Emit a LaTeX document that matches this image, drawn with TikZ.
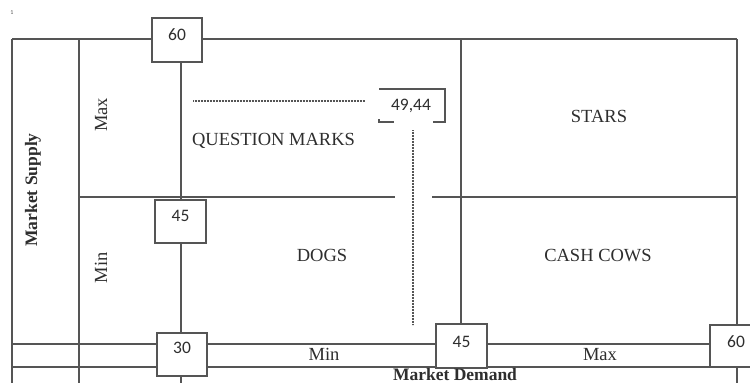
\documentclass[tikz,border=0pt]{standalone}
\usepackage{fontspec}
\setmainfont{Liberation Serif}
\newfontfamily\numfont{Carlito}
\definecolor{lc}{HTML}{555555}
\definecolor{tc}{HTML}{2E2E2E}
\begin{document}
\begin{tikzpicture}[x=1pt,y=-1pt,
  ln/.style={draw=lc, line width=1.1pt},
  dots/.style={draw=lc, line width=1.4pt, dash pattern=on 0.6pt off 0.9pt},
  numbox/.style={draw=lc, line width=1.1pt, fill=white, inner sep=0pt},
  num/.style={font=\numfont\fontsize{17.5}{20}\selectfont, text=tc, inner sep=0pt},
  lab/.style={font=\fontsize{18.5}{21}\selectfont, text=tc, inner sep=0pt, anchor=base},
  blab/.style={font=\bfseries\fontsize{17.5}{20}\selectfont, text=tc, inner sep=0pt, anchor=base}]
\useasboundingbox (0,0) rectangle (750,383);
\clip (0,0) rectangle (750,383);
\fill[white] (0,0) rectangle (750,383);

% grid coordinates
\coordinate (tl) at (12,39);
\coordinate (bl) at (12,383);
\coordinate (s1t) at (79,39);
\coordinate (s1b) at (79,383);
\coordinate (tr) at (737,39);
\coordinate (br) at (737,383);
\coordinate (v2t) at (181,62);
\coordinate (v2b) at (181,383);
\coordinate (v3t) at (461,39);
\coordinate (v3b) at (461,330);
\coordinate (m1) at (79,197);
\coordinate (m2) at (395,197);
\coordinate (m3) at (432,197);
\coordinate (m4) at (737,197);
\coordinate (h1l) at (12,344);
\coordinate (h1r) at (737,344);
\coordinate (h2l) at (12,367);
\coordinate (h2r) at (737,367);

% lines
\draw[ln] (tl) -- (tr);
\draw[ln] (tl) -- (bl);
\draw[ln] (s1t) -- (s1b);
\draw[ln] (tr) -- (br);
\draw[ln] (v2t) -- (v2b);
\draw[ln] (v3t) -- (v3b);
\draw[ln] (m1) -- (m2);
\draw[ln] (m3) -- (m4);
\draw[ln] (h1l) -- (h1r);
\draw[ln] (h2l) -- (h2r);

% dotted lines
\coordinate (d1a) at (193,101);
\coordinate (d1b) at (365,101);
\coordinate (d2a) at (413,130);
\coordinate (d2b) at (413,325);
\draw[dots] (d1a) -- (d1b);
\draw[dots] (d2a) -- (d2b);

% bracket around 49,44
\coordinate (k1) at (379,89);
\coordinate (k2) at (445,89);
\coordinate (k3) at (445,122);
\coordinate (k4) at (433,122);
\coordinate (k5) at (379,119);
\coordinate (k6) at (379,122);
\coordinate (k7) at (394,122);
\draw[ln] (k1) -- (k2) -- (k3) -- (k4);
\draw[ln] (k5) -- (k6) -- (k7);
\node[num] (n4944) at (411,106) {49,44};

% number boxes
\node[numbox, minimum width=50pt, minimum height=44pt] (b60a) at (177,40) {};
\node[numbox, minimum width=51pt, minimum height=43pt] (b45a) at (180.5,221.5) {};
\node[numbox, minimum width=50pt, minimum height=43pt] (b30) at (182,354.5) {};
\node[numbox, minimum width=51pt, minimum height=44pt] (b45b) at (461.5,346) {};
\node[numbox, minimum width=52pt, minimum height=42pt] (b60r) at (736,346) {};
\node[num] (t60a) at ([yshift=-17pt]b60a.north) {60};
\node[num] (t45a) at ([yshift=-16pt]b45a.north) {45};
\node[num] (t30) at ([yshift=-15pt]b30.north) {30};
\node[num] (t45b) at ([yshift=-18pt]b45b.north) {45};
\node[num] (t60r) at ([yshift=-17pt]b60r.north) {60};

% labels
\node[font=\numfont\fontsize{6}{7}\selectfont, text=lc, inner sep=0pt] (one) at (12,13) {1};
\node[lab, rotate=90] (maxv) at (107,115) {Max};
\node[lab, rotate=90] (minv) at (107,268) {Min};
\node[blab, rotate=90] (ms) at (37,190) {Market Supply};
\node[lab] (qm) at (273.5,145) {QUESTION MARKS};
\node[lab] (st) at (599,122) {STARS};
\node[lab] (dg) at (322,261) {DOGS};
\node[lab] (cc) at (598,261) {CASH COWS};
\node[lab] (minh) at (324,360) {Min};
\node[lab] (maxh) at (600,360) {Max};
\node[blab] (md) at (455,380.5) {Market Demand};
\end{tikzpicture}
\end{document}
